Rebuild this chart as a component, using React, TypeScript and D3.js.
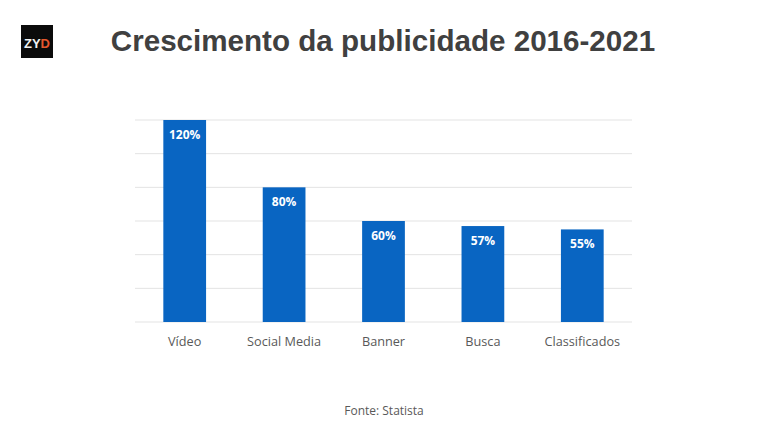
import React from "react";
import * as d3 from "d3";

const categories = ["Vídeo", "Social Media", "Banner", "Busca", "Classificados"];
const values = [120, 80, 60, 57, 55];
const yTicks = [0, 20, 40, 60, 80, 100, 120];

const W = 768;
const H = 432;

export default function App() {
  const x = d3
    .scaleBand<string>()
    .domain(categories)
    .range([135, 632])
    .paddingInner(0.57)
    .paddingOuter(0.285);
  const y = d3.scaleLinear().domain([0, 120]).range([322, 120]);
  const font = "'Open Sans', 'Noto Sans', sans-serif";

  return (
    <div style={{ position: "fixed", left: 0, top: 0, width: W, height: H, background: "#fff" }}>
      <svg width={W} height={H} viewBox={`0 0 ${W} ${H}`}>
        <rect x={0} y={0} width={W} height={H} fill="#fff" />
        {/* logo */}
        <rect x={21} y={25} width={32} height={33} fill="#0b0b0b" />
        <text x={37} y={48} textAnchor="middle" fontFamily="'Liberation Sans', Arial, sans-serif" fontWeight="bold" fontSize={13}>
          <tspan fill="#f2f2f2">ZY</tspan>
          <tspan fill="#e4572e">D</tspan>
        </text>
        {/* title */}
        <text
          x={383}
          y={51}
          textAnchor="middle"
          fontFamily="'Liberation Sans', Arial, sans-serif"
          fontWeight="bold"
          fontSize={29.6}
          fill="#404040"
        >
          Crescimento da publicidade 2016-2021
        </text>
        {/* gridlines */}
        {yTicks.map((t) => (
          <line key={t} x1={135} x2={632} y1={y(t)} y2={y(t)} stroke="#e3e3e3" strokeWidth={1} />
        ))}
        {/* bars */}
        {categories.map((c, i) => (
          <g key={c}>
            <rect x={x(c)} y={y(values[i])} width={x.bandwidth()} height={y(0) - y(values[i])} fill="#0965c2" />
            <text
              x={(x(c) as number) + x.bandwidth() / 2}
              y={y(values[i]) + 19}
              textAnchor="middle"
              fontFamily={font}
              fontWeight="bold"
              fontSize={12}
              fill="#fff"
            >
              {values[i]}%
            </text>
            <text
              x={(x(c) as number) + x.bandwidth() / 2}
              y={346}
              textAnchor="middle"
              fontFamily={font}
              fontSize={12.7}
              fill="#595959"
            >
              {c}
            </text>
          </g>
        ))}
        <text x={384} y={415} textAnchor="middle" fontFamily={font} fontSize={12} fill="#595959">
          Fonte: Statista
        </text>
      </svg>
    </div>
  );
}
